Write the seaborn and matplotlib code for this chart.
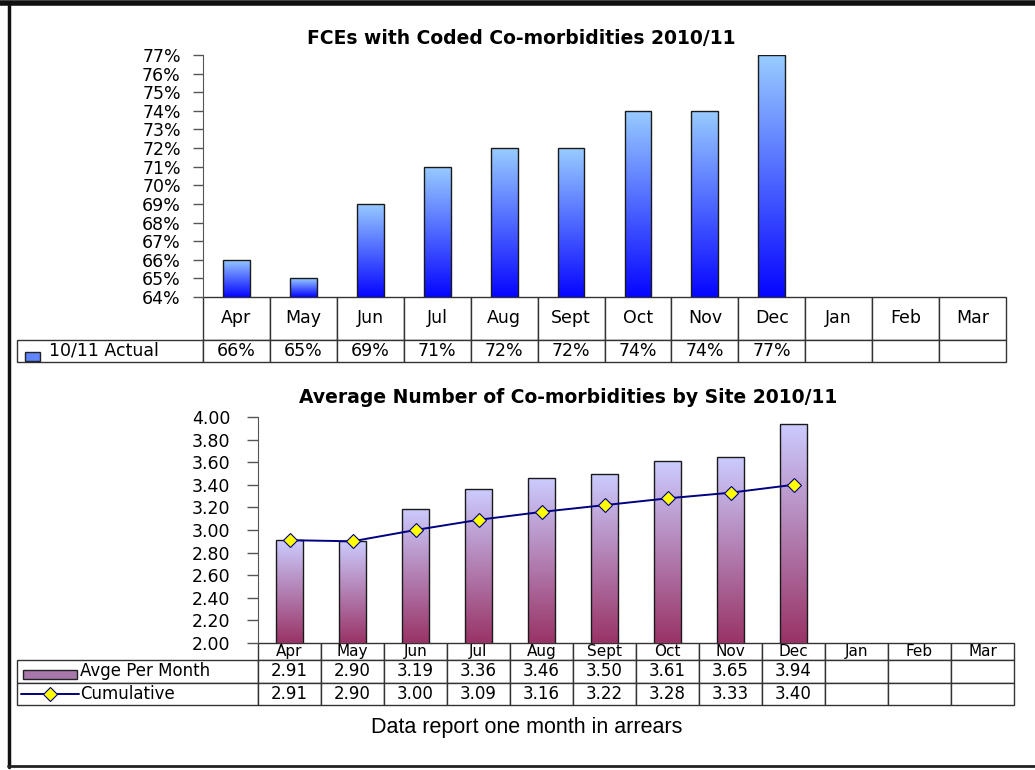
import numpy as np
import seaborn as sns
import matplotlib.pyplot as plt
from matplotlib.patches import Rectangle
from matplotlib.lines import Line2D
from matplotlib.colors import LinearSegmentedColormap
from matplotlib.ticker import FuncFormatter, MultipleLocator

# data
months = ['Apr', 'May', 'Jun', 'Jul', 'Aug', 'Sept', 'Oct', 'Nov', 'Dec', 'Jan', 'Feb', 'Mar']
coded_pct = [66, 65, 69, 71, 72, 72, 74, 74, 77]
avg_per_month = [2.91, 2.90, 3.19, 3.36, 3.46, 3.50, 3.61, 3.65, 3.94]
cumulative = [2.91, 2.90, 3.00, 3.09, 3.16, 3.22, 3.28, 3.33, 3.40]

sns.set_style('ticks')
plt.rcParams['font.family'] = ['DejaVu Sans']
plt.rcParams['text.color'] = 'black'
plt.rcParams['ytick.labelcolor'] = 'black'

W, H = 1035, 770
fig = plt.figure(figsize=(W / 100, H / 100), dpi=100)


def box(l, t, r, b):
    # pixel box -> figure fraction
    return [l / W, 1 - b / H, (r - l) / W, (b - t) / H]


def gradient_bars(ax, top, bottom, ymin):
    cmap = LinearSegmentedColormap.from_list('g', [bottom, top])
    grad = np.linspace(0, 1, 256).reshape(-1, 1)
    for bar in list(ax.patches):
        x0 = bar.get_x()
        w = bar.get_width()
        ytop = bar.get_y() + bar.get_height()
        im = ax.imshow(grad, extent=[x0, x0 + w, ymin, ytop], origin='lower',
                       cmap=cmap, aspect='auto', zorder=2)
        im.set_clip_path(bar)
        bar.set_facecolor('none')
        bar.set_zorder(3)


def month_table(ax, rows, labels, leg_px, heights, pad, fs, head_fs):
    axw = ax.get_position().width * W
    axh = ax.get_position().height * H
    n = len(months)
    leg = leg_px / axw
    text = [[''] + months] + [[lab] + r + [''] * (n - len(r)) for lab, r in zip(labels, rows)]
    total = sum(heights) / axh
    tb = ax.table(cellText=text, colWidths=[leg] + [1 / n] * n, cellLoc='center',
                  bbox=[-leg, -total, 1 + leg, total])
    tb.auto_set_font_size(False)
    tb.set_fontsize(fs)
    for (r, c), cell in tb.get_celld().items():
        cell.set_height(heights[r])
        cell.set_edgecolor('#333333')
        cell.set_linewidth(1)
        cell.get_text().set_color('black')
        if r == 0:
            cell.get_text().set_fontsize(head_fs)
            if c == 0:
                cell.visible_edges = ''
        if c == 0 and r > 0:
            cell.get_text().set_ha('left')
            cell.PAD = pad
    return tb


# ---- chart 1: FCEs with coded co-morbidities ----
ax1 = fig.add_axes(box(203, 55, 1006, 297))
sns.barplot(x=months[:9], y=coded_pct, order=months, width=0.4, color='#3366ff',
            edgecolor='#1a1a1a', linewidth=1, ax=ax1)
gradient_bars(ax1, '#99ccff', '#0505ff', 64)
ax1.set_xlim(-0.5, 11.5)
ax1.set_ylim(64, 77)
ax1.yaxis.set_major_locator(MultipleLocator(1))
ax1.yaxis.set_major_formatter(FuncFormatter(lambda v, p: f'{v:.0f}%'))
ax1.set_xticks([])
ax1.set_xlabel('')
ax1.set_ylabel('')
ax1.tick_params(axis='y', length=7, width=1, color='#555555', labelsize=12.5, pad=9)
sns.despine(ax=ax1, top=True, right=True, bottom=True)
ax1.spines['left'].set_color('#555555')
ax1.set_title('FCEs with Coded Co-morbidities 2010/11', fontsize=13.5, fontweight='bold',
              pad=8, color='black')
ax1.title.set_x(0.396)
month_table(ax1, [[f'{v}%' for v in coded_pct]], ['10/11 Actual'], 186, [43, 22], 0.17,
            12.5, 12.5)
fig.add_artist(Rectangle((25 / W, 1 - 361 / H), 15 / W, 9 / H, facecolor='#5f86ff',
                         edgecolor='#222222', linewidth=1))

# ---- chart 2: average number of co-morbidities ----
ax2 = fig.add_axes(box(258, 417, 1014, 643))
sns.barplot(x=months[:9], y=avg_per_month, order=months, width=0.43, color='#b088b8',
            edgecolor='#1a1a1a', linewidth=1, ax=ax2)
gradient_bars(ax2, '#ccccff', '#993366', 2.0)
sns.pointplot(x=months[:9], y=cumulative, order=months, color='#000080', markers='D',
              markersize=7, linewidth=1.4, markerfacecolor='#ffff00',
              markeredgecolor='#000080', markeredgewidth=0.8, ax=ax2)
for ln in ax2.lines:
    ln.set_zorder(5)
ax2.set_xlim(-0.5, 11.5)
ax2.set_ylim(2.0, 4.0)
ax2.yaxis.set_major_locator(MultipleLocator(0.2))
ax2.yaxis.set_major_formatter(FuncFormatter(lambda v, p: f'{v:.2f}'))
ax2.set_xticks([])
ax2.set_xlabel('')
ax2.set_ylabel('')
ax2.tick_params(axis='y', length=8, width=1, color='#555555', labelsize=12.5, pad=12)
sns.despine(ax=ax2, top=True, right=True, bottom=True)
ax2.spines['left'].set_color('#555555')
ax2.set_title('Average Number of Co-morbidities by Site 2010/11', fontsize=13.5,
              fontweight='bold', pad=10, color='black')
ax2.title.set_x(0.41)
month_table(ax2, [[f'{v:.2f}' for v in avg_per_month], [f'{v:.2f}' for v in cumulative]],
            ['Avge Per Month', 'Cumulative'], 241, [17, 23, 22], 0.26, 12, 11)
fig.add_artist(Rectangle((23 / W, 1 - 679 / H), 54 / W, 9 / H, facecolor='#a878aa',
                         edgecolor='#222222', linewidth=1))
fig.add_artist(Line2D([21 / W, 79 / W], [1 - 694 / H] * 2, color='#000080', linewidth=1.4))
fig.add_artist(Line2D([50 / W], [1 - 694 / H], marker='D', markersize=7, color='#000080',
                      markerfacecolor='#ffff00', markeredgewidth=0.8))

fig.text(527 / W, 1 - 727 / H, 'Data report one month in arrears', ha='center', va='center',
         fontsize=15.5, family=['Liberation Sans Narrow', 'Liberation Sans'])

# page frame
fig.add_artist(Line2D([0, 1], [1 - 3 / H] * 2, color='#111111', linewidth=4))
fig.add_artist(Line2D([9 / W] * 2, [1 - 5 / H, 1 - 767 / H], color='#111111', linewidth=2.5))
fig.add_artist(Line2D([8 / W, 1], [1 - 766 / H] * 2, color='#222222', linewidth=2))

fig.savefig('out.png', dpi=100, facecolor='white')
